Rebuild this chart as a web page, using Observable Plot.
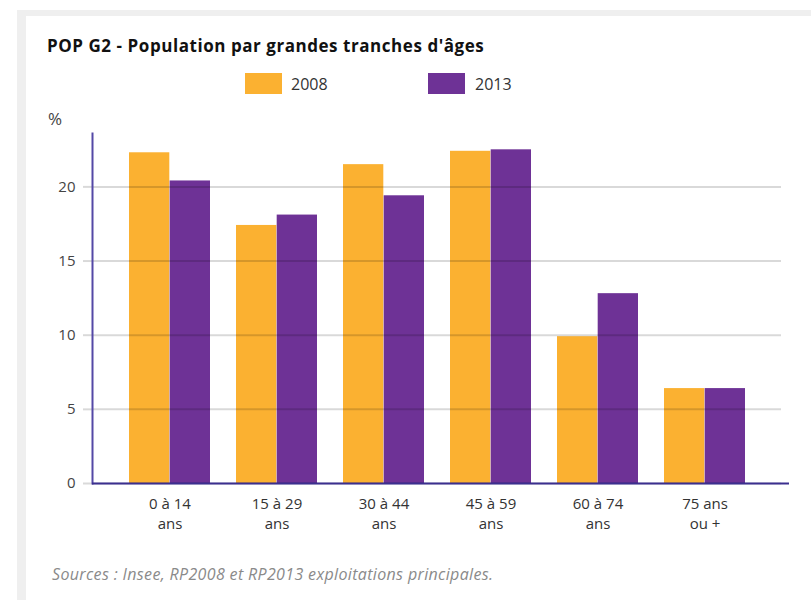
<!DOCTYPE html>
<html><head><meta charset="utf-8">
<script src="https://cdn.jsdelivr.net/npm/d3@7"></script>
<script src="https://cdn.jsdelivr.net/npm/@observablehq/plot@0.6"></script>
<style>
body{margin:0;background:#fff;font-family:"Open Sans",sans-serif;width:811px;height:600px;overflow:hidden;position:relative;}
#card{position:absolute;left:17px;top:10px;width:800px;height:600px;border-left:9px solid #efefef;border-top:6px solid #efefef;background:#fff;box-sizing:border-box;}
#title{position:absolute;left:47px;top:35px;font-weight:bold;font-size:17px;letter-spacing:0.55px;line-height:22px;color:#111;white-space:nowrap;}
.sw{position:absolute;top:73px;width:37px;height:21px;}
.lt{position:absolute;top:73px;font-size:16px;line-height:22px;color:#333;}
#pct{position:absolute;left:48px;top:107px;font-size:17px;line-height:24px;color:#444;}
#chart{position:absolute;left:0;top:100px;}
#caption{position:absolute;left:52px;top:563px;font-style:italic;font-size:16px;letter-spacing:0.35px;line-height:22px;color:#8a8a8a;white-space:nowrap;}
</style>
</head><body>
<div id="card"></div>
<div id="title">POP G2 - Population par grandes tranches d'âges</div>
<div id="legend"></div>
<div id="pct">%</div>
<div id="chart"></div>
<div id="caption">Sources : Insee, RP2008 et RP2013 exploitations principales.</div>
<script>
const categories = ["0 à 14\nans", "15 à 29\nans", "30 à 44\nans", "45 à 59\nans", "60 à 74\nans", "75 ans\nou +"];
const years = ["2008", "2013"];
const values2008 = [22.3, 17.4, 21.5, 22.4, 9.9, 6.4];
const values2013 = [20.4, 18.1, 19.4, 22.5, 12.8, 6.4];
const yTicks = [0, 5, 10, 15, 20];
const colors = ["#FBB131", "#6E3296"];

// legend
const legend = document.getElementById("legend");
const legendX = [[245, 291], [428, 475]];
years.forEach((yr, i) => {
  const s = document.createElement("div");
  s.className = "sw"; s.style.left = legendX[i][0] + "px"; s.style.background = colors[i];
  const t = document.createElement("div");
  t.className = "lt"; t.style.left = legendX[i][1] + "px"; t.textContent = yr;
  legend.appendChild(s); legend.appendChild(t);
});

const rows2008 = categories.map((c, i) => ({cat: c, year: years[0], value: values2008[i]}));
const rows2013 = categories.map((c, i) => ({cat: c, year: years[1], value: values2013[i]}));

const W = 811, H = 440, mL = 92, mR = 30, mT = 33, mB = 57;
const xOpts = {type: "band", domain: categories, range: [mL, W - mR], paddingInner: 0.243, paddingOuter: 0.326, align: 0.5};
const bw = Plot.scale({x: xOpts}).bandwidth;

const chart = Plot.plot({
  width: W, height: H,
  marginLeft: mL, marginRight: mR, marginTop: mT, marginBottom: mB,
  style: {fontFamily: "Open Sans", fontSize: "15px", background: "transparent"},
  x: {domain: categories, paddingInner: 0.243, paddingOuter: 0.326, align: 0.5},
  y: {domain: [0, 23.6]},
  color: {domain: years, range: colors},
  marks: [
    Plot.barY(rows2008, {x: "cat", y: "value", fill: "year", insetRight: bw / 2}),
    Plot.barY(rows2013, {x: "cat", y: "value", fill: "year", insetLeft: bw / 2}),
    Plot.gridY(yTicks, {stroke: "#000", strokeOpacity: 0.15, strokeWidth: 2}),
    Plot.axisY({ticks: yTicks, tickSize: 9, tickPadding: 8, stroke: "#000", strokeOpacity: 0.15, strokeWidth: 2, fill: "#444", fontSize: 15, label: null}),
    Plot.frame({anchor: "left", stroke: "#5448a6", strokeWidth: 2}),
    Plot.ruleY([0], {stroke: "#3b2f8f", strokeWidth: 2, insetRight: -8}),
    Plot.axisX({tickSize: 0, tickPadding: 12, fill: "#333", fontSize: 15, lineHeight: 1.3, label: null})
  ]
});
document.getElementById("chart").appendChild(chart);
</script>
</body></html>
